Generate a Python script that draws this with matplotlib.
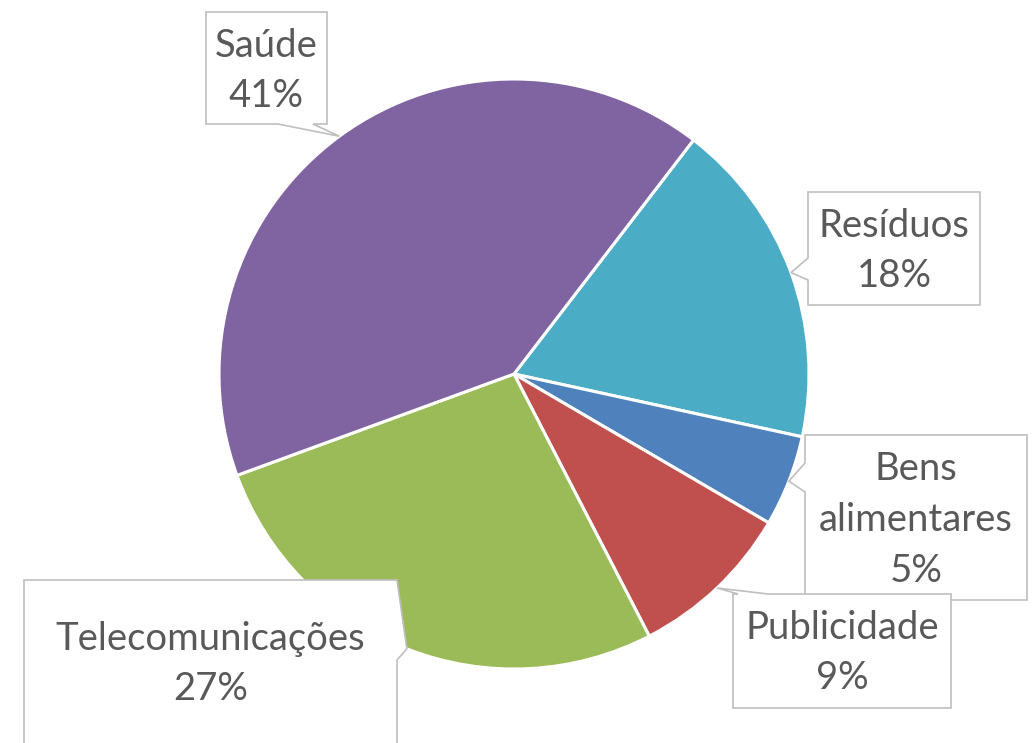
import numpy as np
import matplotlib

matplotlib.use("Agg")
import matplotlib.pyplot as plt
from matplotlib.patches import Polygon

# dados (ordem no sentido horário a partir de Resíduos)
labels = ["Resíduos", "Bens\nalimentares", "Publicidade", "Telecomunicações", "Saúde"]
values = [18, 5, 9, 27, 41]
colors = ["#4BACC6", "#4F81BD", "#C0504D", "#9BBB59", "#8064A2"]

W, H = 1033, 743
CX, CY, R = 514, 374, 295
START = 52.5

# caixas das legendas (px, origem em cima à esquerda) + lado do "bico" e a base do bico
boxes = {
    "Saúde": ((206, 12, 327, 124), "bottom", (278, 313)),
    "Resíduos": ((808, 192, 980, 305), "left", (258, 280)),
    "Bens\nalimentares": ((805, 435, 1027, 600), "left", (463, 492)),
    "Publicidade": ((733, 594, 951, 708), "top", (738, 768)),
    "Telecomunicações": ((24, 580, 397, 760), "right", (580, 660)),
}
text_y = {"Saúde": 71, "Resíduos": 251, "Bens\nalimentares": 520,
          "Publicidade": 653, "Telecomunicações": 664}
draw_order = ["Saúde", "Resíduos", "Bens\nalimentares", "Telecomunicações", "Publicidade"]

fig = plt.figure(figsize=(W / 100, H / 100), dpi=100)
ax = fig.add_axes([(CX - R) / W, (H - CY - R) / H, 2 * R / W, 2 * R / H])
wedges, _ = ax.pie(values, colors=colors, startangle=START, counterclock=False,
                   radius=1, wedgeprops=dict(edgecolor="white", linewidth=2.2))
ax.set_xlim(-1, 1)
ax.set_ylim(-1, 1)
ax.axis("off")

ov = fig.add_axes([0, 0, 1, 1], zorder=5)
ov.set_xlim(0, W)
ov.set_ylim(H, 0)
ov.axis("off")


def callout(box, side, base, tip):
    x0, y0, x1, y1 = box
    a, b = base
    if side == "bottom":
        pts = [(x0, y0), (x1, y0), (x1, y1), (b, y1), tip, (a, y1), (x0, y1)]
    elif side == "left":
        pts = [(x0, y0), (x1, y0), (x1, y1), (x0, y1), (x0, b), tip, (x0, a)]
    elif side == "top":
        pts = [(x0, y0), (a, y0), tip, (b, y0), (x1, y0), (x1, y1), (x0, y1)]
    else:
        pts = [(x0, y0), (x1, y0), tip, (x1, b), (x1, y1), (x0, y1)]
    return Polygon(pts, closed=True, facecolor="white", edgecolor="#BFBFBF", linewidth=1.2)


total = sum(values)
tips = {}
for lab, w in zip(labels, wedges):
    mid = np.deg2rad((w.theta1 + w.theta2) / 2)
    px, py = ax.transData.transform((np.cos(mid), np.sin(mid)))
    tips[lab] = (px, H - py)

for lab in draw_order:
    box, side, base = boxes[lab]
    ov.add_patch(callout(box, side, base, tips[lab]))
    v = values[labels.index(lab)]
    x0, y0, x1, _ = box
    ov.text((x0 + x1) / 2, text_y[lab], f"{lab}\n{v / total:.0%}", ha="center", va="center",
            fontsize=27.5, color="#595959", family=["Lato", "DejaVu Sans"], linespacing=1.5)

fig.savefig("out.png", dpi=100)
